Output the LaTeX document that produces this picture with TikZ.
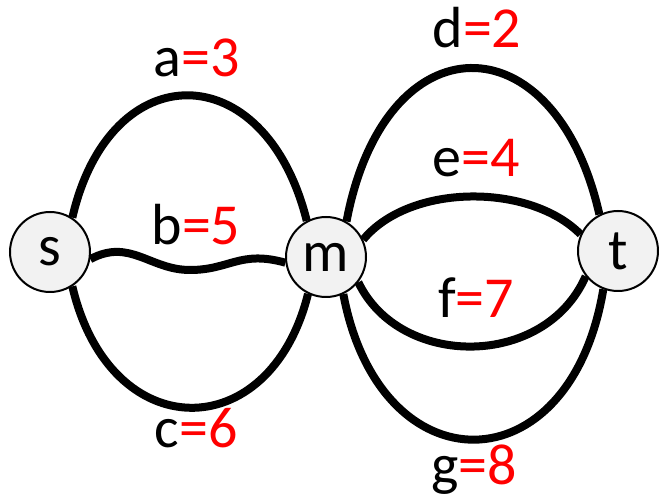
\documentclass[tikz,border=0pt]{standalone}
\usepackage{fontspec}
\setmainfont{Carlito}
\usepackage{xcolor}
\definecolor{cNode}{HTML}{F2F2F2}
\definecolor{cEdge}{HTML}{000000}
\definecolor{cWeight}{HTML}{FF0000}
\usepackage{tikz}
\tikzset{
  node-vertex/.style={draw=cEdge,line width=2pt,circle,fill=cNode,
    minimum size=80pt,inner sep=0pt,font=\fontsize{58}{60}\selectfont},
  edge-path/.style={line width=8pt,draw=cEdge},
  edge-label/.style={anchor=base,inner sep=0pt,font=\fontsize{58}{60}\selectfont},
}
\newcommand{\wt}[1]{{\color{cWeight}=#1}}

\begin{document}
\begin{tikzpicture}[x=1pt,y=-1pt]
  \useasboundingbox (0,0) rectangle (659,502);
  \node[node-vertex] (s) at (50,252)  {s};
  \node[node-vertex] (m) at (326,257) {m};
  \node[node-vertex] (t) at (618,251) {t};
  % left half
  \draw[edge-path] (s.57)  .. controls (110,54)  and (265,54)  .. (m.118);
  \draw[edge-path] (s.-10) .. controls (130,238) and (150,270) .. (190,270)
                           .. controls (230,270) and (240,250) .. (m.188);
  \draw[edge-path] (s.-57) .. controls (110,447) and (270,447) .. (m.244);
  % right half
  \draw[edge-path] (m.60)  .. controls (385,18)  and (555,18)  .. (t.117);
  \draw[edge-path] (m.25)  .. controls (410,183) and (530,183) .. (t.156);
  \draw[edge-path] (m.-38) .. controls (400,369) and (545,369) .. (t.218);
  \draw[edge-path] (m.-65) .. controls (380,489) and (570,489) .. (t.249);
  % weights
  \node[edge-label] (la) at (197,77)  {a\wt{3}};
  \node[edge-label] (lb) at (196,245) {b\wt{5}};
  \node[edge-label] (lc) at (196,448) {c\wt{6}};
  \node[edge-label] (ld) at (477,48)  {d\wt{2}};
  \node[edge-label] (le) at (476,177) {e\wt{4}};
  \node[edge-label] (lf) at (476,318) {f\wt{7}};
  \node[edge-label] (lg) at (474,485) {g\wt{8}};
\end{tikzpicture}
\end{document}
